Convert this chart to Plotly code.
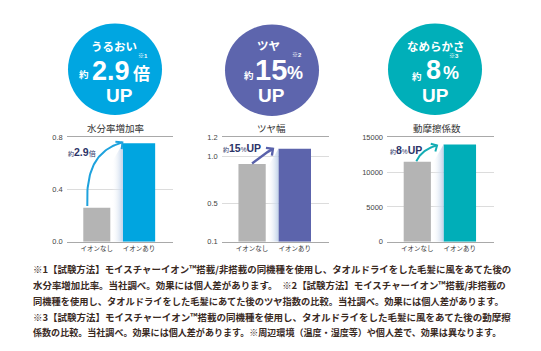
import plotly.graph_objects as go
import numpy as np

# ---------------- data ----------------
categories = ["イオンなし", "イオンあり"]
moisture_rate = [0.26, 0.755]        # 水分率増加率
gloss_width = [0.92, 1.08]           # ツヤ幅
friction_coef = [11500, 14000]       # 動摩擦係数

chart_titles = ["水分率増加率", "ツヤ幅", "動摩擦係数"]
moisture_ticks = [0.0, 0.4, 0.8]
moisture_ticktext = ["0.0", "0.4", "0.8"]
gloss_ticks = [0.1, 0.5, 1.0, 1.2]
gloss_ticktext = ["0.1", "0.5", "1.0", "1.2"]
friction_ticks = [0, 5000, 10000, 15000]
friction_ticktext = ["0", "5000", "10000", "15000"]

circle_labels = ["うるおい", "ツヤ", "なめらかさ"]
circle_values = ["2.9", "15", "8"]
circle_units = ["倍", "%", "%"]
circle_notes = ["※1", "※2", "※3"]
callout_values = ["2.9", "15", "8"]
callout_units = ["倍", "%UP", "%UP"]

footnotes = [
    "※1【試験方法】モイスチャーイオン™搭載/非搭載の同機種を使用し、タオルドライをした毛髪に風をあてた後の",
    "水分率増加比率。当社調べ。効果には個人差があります。　※2【試験方法】モイスチャーイオン™搭載/非搭載の",
    "同機種を使用し、タオルドライをした毛髪にあてた後のツヤ指数の比較。当社調べ。効果には個人差があります。",
    "※3【試験方法】モイスチャーイオン™搭載の同機種を使用し、タオルドライをした毛髪に風をあてた後の動摩擦",
    "係数の比較。当社調べ。効果には個人差があります。※周辺環境（温度・湿度等）や個人差で、効果は異なります。",
]

# ---------------- style / layout ----------------
W, H = 541, 351
JP = "Noto Sans CJK JP"
LAT = "Liberation Sans, Arial, Noto Sans CJK JP"
GRAY = "#b4b4b4"
colors = ["#00a5e0", "#5c64ac", "#00aeb8"]
circle_colors = ["#00a6e1", "#5d65ad", "#00afb9"]
arrow_colors = ["#1ea2dd", "#5a62ab", "#14adb4"]
navy = "#2c3468"

def px(x):
    return x / W

def py(y):
    return 1 - y / H

charts = [
    dict(vals=moisture_rate, yr=[0, 0.8], tv=moisture_ticks, tt=moisture_ticktext, xd=(66.7, 173.0)),
    dict(vals=gloss_width, yr=[0.1, 1.2], tv=gloss_ticks, tt=gloss_ticktext, xd=(221.7, 329.0)),
    dict(vals=friction_coef, yr=[0, 15000], tv=friction_ticks, tt=friction_ticktext, xd=(387.0, 494.0)),
]
YD = (137.0, 244.0)          # plot area top/bottom in px
XR = [-0.713, 1.805]
widths = [0.64, 0.765]
xpos = [0, 1]

fig = go.Figure()
layout = dict(
    width=W, height=H, margin=dict(l=0, r=0, t=0, b=0),
    paper_bgcolor="white", plot_bgcolor="white", showlegend=False,
    shapes=[], annotations=[],
)

arrow_specs = [
    dict(s=(-9.5, -2.0), c1=(-2, -45), c2=None, e=(-0.5, -1.0), ang=40, L=7, lw=2.0),
    dict(s=(0.0, -0.5), c1=(6, -5), c2=(12, -10), e=(-5.5, 0.0), ang=37, L=7, lw=2.4),
    dict(s=(-1.0, -0.5), c1=(2.5, -6), c2=(8.5, -13), e=(-6.5, 1.0), ang=30, L=6.5, lw=2.0),
]
callout_pos = [(82, 152), (241.5, 147.5), (406, 150)]

for i, ch in enumerate(charts):
    n = "" if i == 0 else str(i + 1)
    xa, ya = "x" + n, "y" + n
    x0, x1 = ch["xd"]
    layout["xaxis" + n] = dict(
        domain=[px(x0), px(x1)], anchor=ya, range=XR, fixedrange=True,
        tickvals=xpos, ticktext=categories, showgrid=False, zeroline=False,
        showline=True, mirror=True, linecolor="#a9a9a9", linewidth=1,
        ticks="", tickfont=dict(family=JP, size=6.5, color="#333"),
    )
    layout["yaxis" + n] = dict(
        domain=[py(YD[1]), py(YD[0])], anchor=xa, range=ch["yr"], fixedrange=True,
        tickvals=ch["tv"], ticktext=ch["tt"], showgrid=True, gridcolor="#dcdcdc",
        gridwidth=1, zeroline=False, showline=False, ticks="",
        tickfont=dict(family=LAT, size=7.5, color="#444"), ticklabelstandoff=3,
    )

    vals = ch["vals"]
    yr = ch["yr"]
    ppx = (x1 - x0) / (XR[1] - XR[0])
    ppy = (YD[1] - YD[0]) / (yr[1] - yr[0])

    def to_px(x, y):
        return x0 + (x - XR[0]) * ppx, YD[1] - (y - yr[0]) * ppy

    def from_px(X, Y):
        return XR[0] + (X - x0) / ppx, yr[0] + (YD[1] - Y) / ppy

    # gradient side shading between bars
    g_right = xpos[0] + widths[0] / 2
    c_left = xpos[1] - widths[1] / 2
    gx = g_right + 0.03
    _, top_px = to_px(c_left, vals[1])
    _, ymid = from_px(0, top_px + 20)
    fig.add_trace(go.Scatter(
        x=[gx, c_left, c_left, gx, gx], y=[ymid, vals[1], yr[0], yr[0], ymid],
        xaxis=xa, yaxis=ya, mode="lines", line=dict(width=0), fill="toself",
        fillgradient=dict(type="horizontal",
                          colorscale=[[0, "rgba(255,255,255,0)"], [1, "rgba(190,208,232,0.95)"]]),
        hoverinfo="skip",
    ))

    fig.add_trace(go.Bar(
        x=xpos, y=[v - yr[0] for v in vals], base=yr[0], width=widths,
        marker=dict(color=[GRAY, colors[i]], line=dict(width=0)),
        xaxis=xa, yaxis=ya, hoverinfo="skip",
    ))

    # curved arrow
    sp = arrow_specs[i]
    gx_px, gt_px = to_px(xpos[0], vals[0])
    cl_px, ct_px = to_px(c_left, vals[1])
    P0 = np.array([gx_px + sp["s"][0], gt_px + sp["s"][1]])
    P3 = np.array([cl_px + sp["e"][0], ct_px + sp["e"][1]])
    P1 = P0 + np.array(sp["c1"])
    P2 = P0 + np.array(sp["c2"]) if sp["c2"] is not None else P3 + np.array([-20, 6])
    t = np.linspace(0, 1, 40)[:, None]
    B = (1 - t) ** 3 * P0 + 3 * (1 - t) ** 2 * t * P1 + 3 * (1 - t) * t ** 2 * P2 + t ** 3 * P3
    bx, by = from_px(B[:, 0], B[:, 1])
    fig.add_trace(go.Scatter(x=bx, y=by, xaxis=xa, yaxis=ya, mode="lines",
                             line=dict(color=arrow_colors[i], width=sp["lw"]), hoverinfo="skip"))
    th = np.radians(sp["ang"])
    d = np.array([np.cos(th), -np.sin(th)])
    back = -d
    wings = []
    for s in (1, -1):
        a = np.radians(45) * s
        rot = np.array([back[0] * np.cos(a) - back[1] * np.sin(a), back[0] * np.sin(a) + back[1] * np.cos(a)])
        wings.append(P3 + sp["L"] * rot)
    hx, hy = from_px(np.array([wings[0][0], P3[0], wings[1][0]]), np.array([wings[0][1], P3[1], wings[1][1]]))
    fig.add_trace(go.Scatter(x=hx, y=hy, xaxis=xa, yaxis=ya, mode="lines",
                             line=dict(color=arrow_colors[i], width=sp["lw"]), hoverinfo="skip"))

    # chart title
    layout["annotations"].append(dict(
        x=px((x0 + x1) / 2 - 4), y=py(127.5), xref="paper", yref="paper", showarrow=False,
        text=chart_titles[i], font=dict(family=JP, size=9.5, color="#333"),
        xanchor="center", yanchor="middle"))

    # callout text
    cx, cy = callout_pos[i]
    unit = callout_units[i]
    if unit == "倍":
        utxt = "<span style='font-size:7px'>倍</span>"
    else:
        utxt = "<span style='font-size:6.5px'>%</span><b>UP</b>"
    layout["annotations"].append(dict(
        x=px(cx), y=py(cy), xref="paper", yref="paper", showarrow=False,
        text="<span style='font-size:6px'>約</span><b>" + callout_values[i] + "</b>" + utxt,
        font=dict(family=LAT, size=10.5, color=navy), xanchor="center", yanchor="middle"))

# circles
circle_geo = [(115, 67, 47), (272, 68, 47), (435, 67, 47)]
circle_txt = [
    dict(lab=(113.5, 43.5), yaku=(84, 71.5), val=(111, 68.5), vs=27, unit=(141, 70.5), us=17, note=(143, 53.5), up=(119, 93.5)),
    dict(lab=(268, 42.5), yaku=(249, 72.5), val=(271, 67.5), vs=29, unit=(295, 71), us=18, note=(297, 52.5), up=(271.5, 93.5)),
    dict(lab=(436, 43), yaku=(417, 73.5), val=(433.5, 68), vs=27, unit=(451, 71), us=18, note=(453.5, 53.5), up=(435.5, 93.5)),
]
for i, (cx, cy, r) in enumerate(circle_geo):
    layout["shapes"].append(dict(type="circle", xref="paper", yref="paper",
                                 x0=px(cx - r), x1=px(cx + r), y0=py(cy + r), y1=py(cy - r),
                                 fillcolor=circle_colors[i], line=dict(width=0), layer="below"))
    ct = circle_txt[i]
    items = [
        (ct["lab"], "<b>" + circle_labels[i] + "</b>", JP, 11.5),
        (ct["yaku"], "<b>約</b>", JP, 9.5),
        (ct["val"], "<b>" + circle_values[i] + "</b>", LAT, ct["vs"]),
        (ct["unit"], "<b>" + circle_units[i] + "</b>", JP if circle_units[i] == "倍" else LAT, ct["us"]),
        (ct["note"], "<b>" + circle_notes[i] + "</b>", LAT, 6),
        (ct["up"], "<b>UP</b>", LAT, 19),
    ]
    for (x, y), txt, fam, sz in items:
        layout["annotations"].append(dict(
            x=px(x), y=py(y), xref="paper", yref="paper", showarrow=False, text=txt,
            font=dict(family=fam, size=sz, color="white"), xanchor="center", yanchor="middle"))

# footnotes
foot_y = [272, 288.5, 304.5, 321, 337]
foot_sizes = [9.45, 9.45, 9.25, 9.5, 9.05]
for line, y, fs in zip(footnotes, foot_y, foot_sizes):
    layout["annotations"].append(dict(
        x=px(31), y=py(y), xref="paper", yref="paper", showarrow=False,
        text="<b>" + line + "</b>", font=dict(family=JP, size=fs, color="#3a2a1f"),
        xanchor="left", yanchor="middle"))

fig.update_layout(**layout)
fig.write_html("out.html")
